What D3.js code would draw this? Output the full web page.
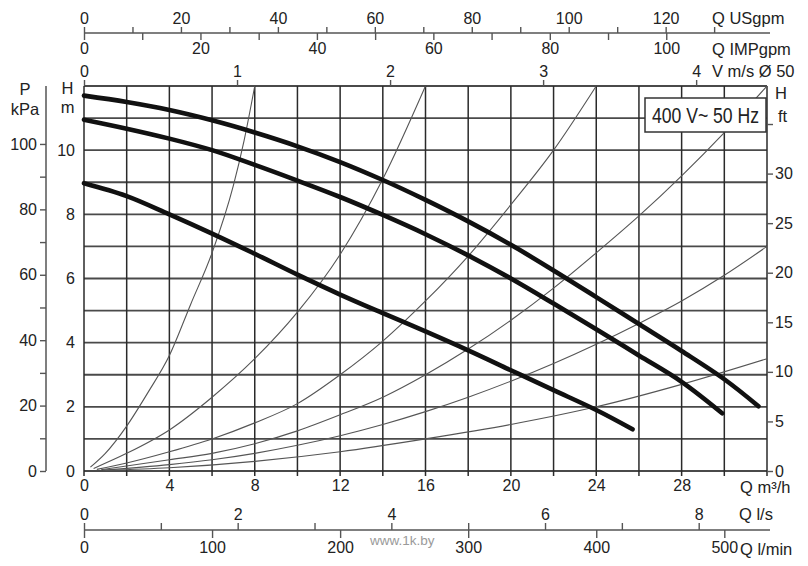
<!DOCTYPE html>
<html>
<head>
<meta charset="utf-8">
<script src="https://cdn.jsdelivr.net/npm/d3@7"></script>
<style>
  html, body { margin: 0; padding: 0; background: #fff; }
  svg { display: block; font-family: "Liberation Sans", Arial, Helvetica, sans-serif; }
  .axis path.domain { display: none; }
  .axis line { stroke: #555; stroke-width: 1.4; }
  .axis .tick text { fill: #222; font-size: 16px; }
  .title { fill: #222; font-size: 16.5px; }
</style>
</head>
<body>
<svg id="chart" width="808" height="566"></svg>
<script>
// pump curves, [Q m3/h, H m]
const curveTop = [[0,11.7],[2,11.5],[4,11.25],[6,10.93],[8,10.55],[10,10.12],[12,9.63],[14,9.07],[16,8.45],[18,7.78],[20,7.05],[22,6.25],[24,5.42],[26,4.58],[28,3.74],[30,2.86],[31.6,2.02]];
const curveMid = [[0,10.95],[2,10.67],[4,10.36],[6,10.0],[8,9.54],[10,9.05],[12,8.54],[14,7.98],[16,7.38],[18,6.72],[20,6.0],[22,5.22],[24,4.42],[26,3.6],[28,2.78],[29.9,1.8]];
const curveLow = [[0,8.97],[2,8.57],[4,8.0],[6,7.4],[8,6.77],[10,6.12],[12,5.5],[14,4.92],[16,4.35],[18,3.76],[20,3.14],[22,2.52],[24,1.9],[25.7,1.3]];

// thin system (pipe) curves, [Q m3/h, H m]
const sysA = [[0.3,0.12],[1,0.55],[2,1.4],[3,2.45],[4,3.6],[5,5.2],[6,6.8],[7,8.9],[7.5,10.3],[8,12]];
const sysB = [[0.45,0.08],[2,0.55],[4,1.28],[6,2.3],[8,3.5],[10,4.95],[12,6.75],[14,9.1],[16,12]];
const sysC = [[0.6,0.05],[2,0.25],[4,0.6],[6,1.0],[8,1.5],[10,2.1],[12,3.0],[14,4.05],[16,5.3],[18,6.7],[20,8.3],[22,10.0],[24,12]];
const sysD = [[0.8,0.04],[4,0.35],[6,0.55],[8,0.85],[10,1.25],[12,1.75],[14,2.3],[16,3.0],[18,3.8],[20,4.7],[22,5.7],[24,6.8],[26,7.95],[28,9.2],[30,10.55],[32,12]];
const sysE = [[0.9,0.03],[4,0.2],[6,0.35],[8,0.55],[10,0.8],[12,1.1],[14,1.45],[16,1.85],[18,2.3],[20,2.8],[22,3.35],[24,3.95],[26,4.6],[28,5.3],[30,6.1],[32,7.0]];
const sysF = [[1.0,0.02],[4,0.1],[8,0.3],[12,0.6],[16,1.0],[20,1.45],[24,2.0],[28,2.7],[32,3.5]];
const systemCurves = [sysA, sysB, sysC, sysD, sysE, sysF];

// ticks
const qTicks = [0, 4, 8, 12, 16, 20, 24, 28];
const qGrid = d3.range(0, 33, 2);
const hGrid = d3.range(0, 13, 1);
const hmTicks = [0, 2, 4, 6, 8, 10];
const kpaTicks = [0, 20, 40, 60, 80, 100];
const kpaMinor = [10, 30, 50, 70, 90];
const ftTicks = [0, 5, 10, 15, 20, 25, 30];
const ftMinor = [35];
const usTicks = [0, 20, 40, 60, 80, 100, 120];
const usMinor = [10, 30, 50, 70, 90, 110, 130];
const impTicks = [0, 20, 40, 60, 80, 100];
const impMinor = [10, 30, 50, 70, 90];
const velTicks = [0, 1, 2, 3, 4];
const lsTicks = [0, 2, 4, 6, 8];
const lsMinor = [1, 3, 5, 7];
const lminTicks = [0, 100, 200, 300, 400, 500];

// unit conversions (to m3/h and m)
const M3H_PER_USGPM = 0.2271;
const M3H_PER_IMPGPM = 0.2728;
const M3H_PER_MS = 7.17;   // velocity in DN50, as drawn on the chart
const M3H_PER_LS = 3.6;
const M3H_PER_LMIN = 0.06;
const KPA_PER_M = 9.81;
const M_PER_FT = 0.309;

const svg = d3.select('#chart');
svg.append('rect').attr('width', 808).attr('height', 566).attr('fill', '#fff');

const x = d3.scaleLinear().domain([0, 32]).range([84, 767]);
const y = d3.scaleLinear().domain([0, 12]).range([471, 86]);

// derived scales sharing the same pixels
const conv = (k, s) => d3.scaleLinear().domain([0, 1]).range([s(0), s(k)]);
const usX = conv(M3H_PER_USGPM, x);
const impX = conv(M3H_PER_IMPGPM, x);
const velX = conv(M3H_PER_MS, x);
const lsX = conv(M3H_PER_LS, x);
const lminX = conv(M3H_PER_LMIN, x);
const kpaY = conv(1 / KPA_PER_M, y);
const ftY = conv(M_PER_FT, y);

const fmt = d3.format('d');
const withMinor = (major) => d => major.includes(d) ? fmt(d) : '';

// grid
const grid = svg.append('g');
grid.selectAll('line.h').data(hGrid).join('line')
  .attr('x1', x(0)).attr('x2', x(32))
  .attr('y1', d => y(d)).attr('y2', d => y(d))
  .attr('stroke', '#4a4a4a').attr('stroke-width', 1.8);
grid.selectAll('line.v').data(qGrid).join('line')
  .attr('x1', d => x(d)).attr('x2', d => x(d))
  .attr('y1', y(12)).attr('y2', y(0) + 5)
  .attr('stroke', '#2a2a2a').attr('stroke-width', 1.5);

// system curves
const sysLine = d3.line().x(d => x(d[0])).y(d => y(d[1])).curve(d3.curveMonotoneX);
svg.append('g').selectAll('path').data(systemCurves).join('path')
  .attr('d', sysLine)
  .attr('fill', 'none').attr('stroke', '#555').attr('stroke-width', 1.1);

// pump curves
const pumpLine = d3.line().x(d => x(d[0])).y(d => y(d[1])).curve(d3.curveCatmullRom.alpha(0.5));
svg.append('g').selectAll('path').data([curveTop, curveMid, curveLow]).join('path')
  .attr('d', pumpLine)
  .attr('fill', 'none').attr('stroke', '#111').attr('stroke-width', 4.6)
  .attr('stroke-linecap', 'round');

// 400 V box
svg.append('rect')
  .attr('x', 645).attr('y', 98).attr('width', 121).attr('height', 34)
  .attr('fill', '#fff').attr('stroke', '#333').attr('stroke-width', 1.5);
svg.append('text')
  .attr('transform', 'translate(705.5,123) scale(0.8,1)')
  .attr('text-anchor', 'middle')
  .attr('font-size', 22).attr('fill', '#222')
  .text('400 V~ 50 Hz');

function axis(gen, tx, ty) {
  return svg.append('g').attr('class', 'axis')
    .attr('transform', `translate(${tx},${ty})`).call(gen);
}
function axisLine(x1, y1, x2, y2) {
  svg.append('line').attr('x1', x1).attr('y1', y1).attr('x2', x2).attr('y2', y2)
    .attr('stroke', '#555').attr('stroke-width', 1.5);
}
function title(txt, tx, ty, anchor) {
  return svg.append('text').attr('class', 'title')
    .attr('x', tx).attr('y', ty).attr('text-anchor', anchor || 'start').text(txt);
}

// top: USgpm / IMPgpm
const topY = 33;
axisLine(x(0), topY, 770, topY);
axis(d3.axisTop(usX).tickValues(usTicks.concat(usMinor)).tickFormat(withMinor(usTicks))
  .tickSize(6).tickPadding(3), 0, topY);
axis(d3.axisBottom(impX).tickValues(impTicks.concat(impMinor)).tickFormat(withMinor(impTicks))
  .tickSize(7).tickPadding(3), 0, topY);
title('Q USgpm', 712, 24);
title('Q IMPgpm', 712, 55);

// velocity on top of the grid
axis(d3.axisTop(velX).tickValues(velTicks).tickFormat(fmt).tickSize(6).tickPadding(3), 0, y(12));
title('V m/s \u00d8 50', 712, 77);

// bottom Q m3/h
axis(d3.axisBottom(x).tickValues(qTicks).tickFormat(fmt).tickSize(0).tickPadding(9), 0, y(0));
title('Q m\u00b3/h', 740, 493);

// bottom l/s and l/min
const botY = 530;
axisLine(x(0), botY, 770, botY);
axis(d3.axisTop(lsX).tickValues(lsTicks.concat(lsMinor)).tickFormat(withMinor(lsTicks))
  .tickSize(7).tickPadding(3), 0, botY);
axis(d3.axisBottom(lminX).tickValues(lminTicks).tickFormat(fmt).tickSize(8).tickPadding(4), 0, botY);
title('Q l/s', 739, 520);
title('Q l/min', 740, 555);

// left H m
axis(d3.axisLeft(y).tickValues(hmTicks).tickFormat(fmt).tickSize(0).tickPadding(9), x(0), 0);
title('H', 67.5, 94, 'middle');
title('m', 67.5, 113, 'middle');

// left P kPa
const pX = 46;
axisLine(pX, y(12), pX, kpaY(0));
axis(d3.axisLeft(kpaY).tickValues(kpaTicks.concat(kpaMinor)).tickFormat(withMinor(kpaTicks))
  .tickSize(6).tickPadding(3), pX, 0);
title('P', 25, 95, 'middle');
title('kPa', 25, 115, 'middle');

// right H ft
axis(d3.axisRight(ftY).tickValues(ftTicks.concat(ftMinor)).tickFormat(withMinor(ftTicks))
  .tickSize(6).tickPadding(2), x(32), 0);
title('H', 775, 99);
title('ft', 778, 122).attr('font-size', 15);

// watermark
svg.append('text').attr('x', 370).attr('y', 545)
  .attr('font-size', 13.5).attr('fill', '#9a9a9a').text('www.1k.by');
</script>
</body>
</html>
